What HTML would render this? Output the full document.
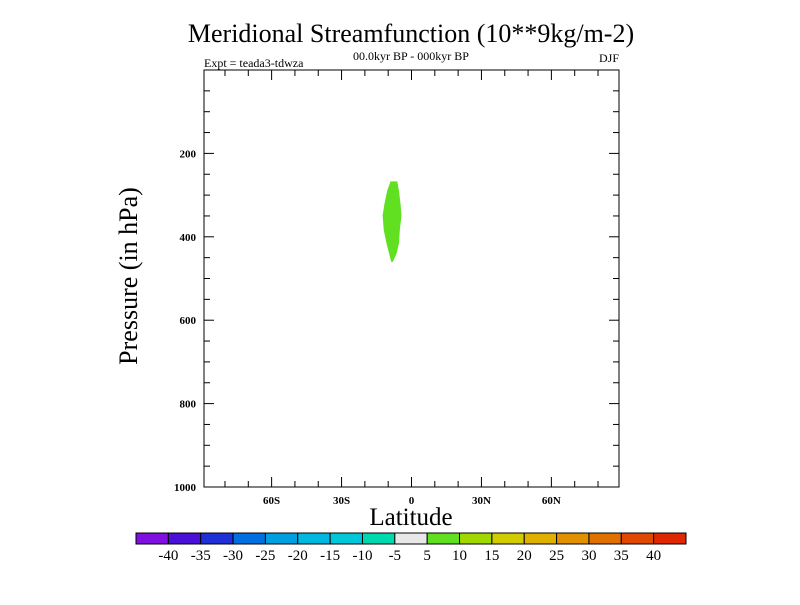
<!DOCTYPE html>
<html><head><meta charset="utf-8"><style>
body{margin:0;background:#fff}
svg text{font-family:"Liberation Serif",serif;fill:#000}
</style></head><body>
<svg width="800" height="600" viewBox="0 0 800 600">
<text x="411" y="42" font-size="26" text-anchor="middle">Meridional Streamfunction (10**9kg/m-2)</text>
<text x="411" y="60" font-size="12" text-anchor="middle">00.0kyr BP - 000kyr BP</text>
<text x="204" y="67" font-size="12">Expt = teada3-tdwza</text>
<text x="619" y="62" font-size="12" text-anchor="end">DJF</text>
<g id="blob"></g>
<rect x="204" y="70" width="415" height="417" fill="none" stroke="#000" stroke-width="1"/>
<g id="ticks"></g>
<text transform="translate(137,276) rotate(-90)" font-size="26" text-anchor="middle">Pressure (in hPa)</text>
<text x="411" y="525" font-size="25" text-anchor="middle">Latitude</text>
<g id="cbar"></g>
</svg>
<script>
const latTicks=[-60,-30,0,30,60];
const latTickLabels=["60S","30S","0","30N","60N"];
const presTicks=[200,400,600,800,1000];
const blobPres=[267,289,321,349,384,416,440,460];
const blobLeft=[-9.0,-10.4,-11.6,-12.4,-11.9,-10.7,-9.6,-8.7];
const blobRight=[-6.1,-5.4,-4.7,-4.3,-5.0,-5.4,-6.4,-8.0];
const levels=[-40,-35,-30,-25,-20,-15,-10,-5,5,10,15,20,25,30,35,40];
const colors=["#8010e0","#4a10d8","#2030d8","#0070e0","#00a0e0","#00b8e0","#00c8d8","#00d8b0","#e8e8e8","#60e020","#a0d800","#d0cc00","#e0b000","#e09000","#e07000","#e04800","#e02800"];
const NS="http://www.w3.org/2000/svg";
const x0=204,x1=619,y0=70,y1=487,latMin=-89,latMax=89,pMin=0,pMax=1000;
const xs=l=>x0+(l-latMin)/(latMax-latMin)*(x1-x0);
const ys=p=>y0+(p-pMin)/(pMax-pMin)*(y1-y0);
function mk(t,a,parent){const e=document.createElementNS(NS,t);for(const k in a)e.setAttribute(k,a[k]);parent.appendChild(e);return e;}
// blob
const blob=document.getElementById('blob');
let pts=[];
for(let i=0;i<blobPres.length;i++)pts.push(xs(blobLeft[i])+","+ys(blobPres[i]));
for(let i=blobPres.length-1;i>=0;i--)pts.push(xs(blobRight[i])+","+ys(blobPres[i]));
const poly=mk('polygon',{points:pts.join(" "),fill:"#60e020"},blob);


// ticks
const tg=document.getElementById('ticks');
for(let l=-80;l<=80;l+=10){const maj=l%30===0;const L=maj?10:6;const x=xs(l);
mk('line',{x1:x,x2:x,y1:y1,y2:y1-L,stroke:"#000"},tg);mk('line',{x1:x,x2:x,y1:y0,y2:y0+L,stroke:"#000"},tg);}
latTicks.forEach((l,i)=>{const t=mk('text',{x:xs(l),y:y1+17,'font-size':11,'text-anchor':'middle','font-weight':'bold'},tg);t.textContent=latTickLabels[i];

});
for(let p=50;p<1000;p+=50){const maj=p%200===0;const L=maj?10:6;const y=ys(p);
mk('line',{x1:x0,x2:x0+L,y1:y,y2:y,stroke:"#000"},tg);mk('line',{x1:x1,x2:x1-L,y1:y,y2:y,stroke:"#000"},tg);}
presTicks.forEach(p=>{const t=mk('text',{x:x0-8,y:ys(p)+4,'font-size':11,'text-anchor':'end','font-weight':'bold'},tg);t.textContent=p;

});
// colorbar
const cb=document.getElementById('cbar');const cx0=136,cx1=686,cy=533,ch=11;const bw=(cx1-cx0)/colors.length;
colors.forEach((c,i)=>{const r=mk('rect',{x:cx0+i*bw,y:cy,width:bw,height:ch,fill:c,stroke:"#000",'stroke-width':1},cb);

});
levels.forEach((v,i)=>{const t=mk('text',{x:cx0+(i+1)*bw,y:cy+27,'font-size':15,'text-anchor':'middle'},cb);t.textContent=v;

});
</script>
</body></html>
